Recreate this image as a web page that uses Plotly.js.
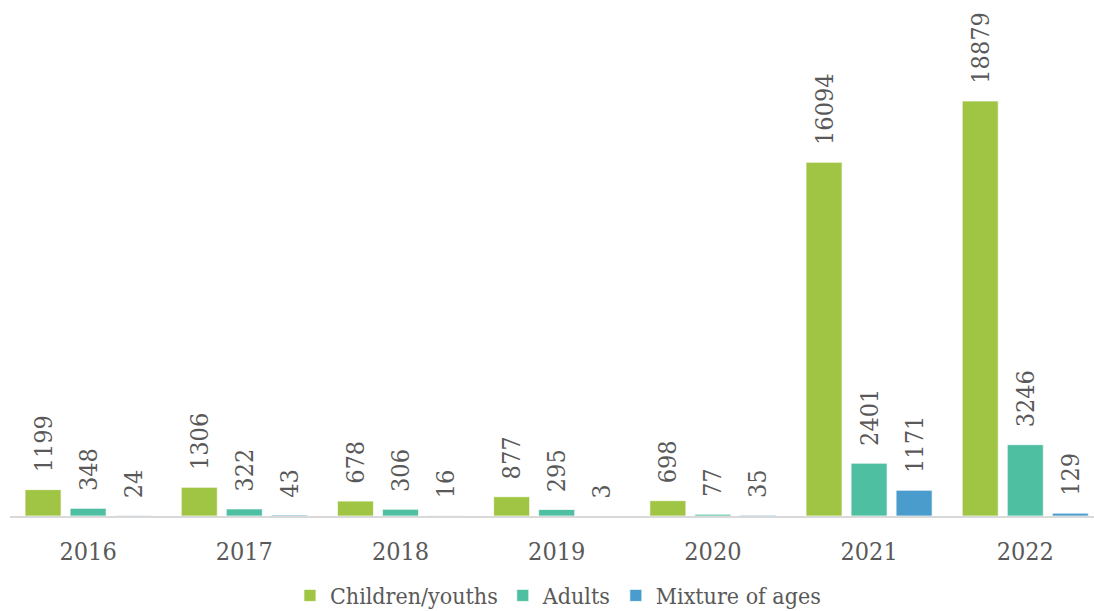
<!DOCTYPE html>
<html>
<head>
<meta charset="utf-8">
<script src="https://cdn.plot.ly/plotly-3.0.1.min.js"></script>
<style>html,body{margin:0;padding:0;background:#fff;}#chart{width:1094px;height:611px;}</style>
</head>
<body>
<div id="chart"></div>
<script>
var years = ['2016', '2017', '2018', '2019', '2020', '2021', '2022'];
var children = [1199, 1306, 678, 877, 698, 16094, 18879];
var adults = [348, 322, 306, 295, 77, 2401, 3246];
var mixture = [24, 43, 16, 3, 35, 1171, 129];
var seriesNames = ['Children/youths', 'Adults', 'Mixture of ages'];
var seriesColors = ['#a0c544', '#4fbfa1', '#4a9ccc'];

var FONT = '"DejaVu Serif Condensed", "DejaVu Serif", serif';
var TXT = '#595959';
var pad = '\u00A0\u00A0';

function mk(vals, i) {
  return {
    type: 'bar', x: years, y: vals, name: seriesNames[i],
    marker: {color: seriesColors[i], line: {color: 'rgba(255,255,255,0.7)', width: 1}},
    text: vals.map(function (v) { return pad + v; }),
    textposition: 'outside', textangle: -90, cliponaxis: false, constraintext: 'none',
    textfont: {family: FONT, size: 25, color: TXT},
    hoverinfo: 'x+y'
  };
}

var data = [mk(children, 0), mk(adults, 1), mk(mixture, 2)];

var layout = {
  width: 1094, height: 611,
  margin: {l: 10, r: 0, t: 0, b: 95, autoexpand: false},
  paper_bgcolor: '#fff', plot_bgcolor: '#fff',
  barmode: 'group', bargap: 0.135, bargroupgap: 0.2,
  showlegend: true,
  legend: {orientation: 'h', x: 0.5055, xanchor: 'center', y: -0.154, yanchor: 'middle',
           font: {family: FONT, size: 23, color: TXT}, itemwidth: 30, tracegroupgap: 0},
  xaxis: {type: 'category', range: [-0.5, 6.44], showline: true, linecolor: '#d9d9d9', linewidth: 2,
          ticks: '', showgrid: false, zeroline: false,
          tickfont: {family: FONT, size: 25, color: TXT}, ticklabelstandoff: 12},
  yaxis: {range: [0, 23474], visible: false, showgrid: false, zeroline: false},
  font: {family: FONT, color: TXT}
};

Plotly.newPlot('chart', data, layout, {displayModeBar: false, staticPlot: true});
</script>
</body>
</html>
